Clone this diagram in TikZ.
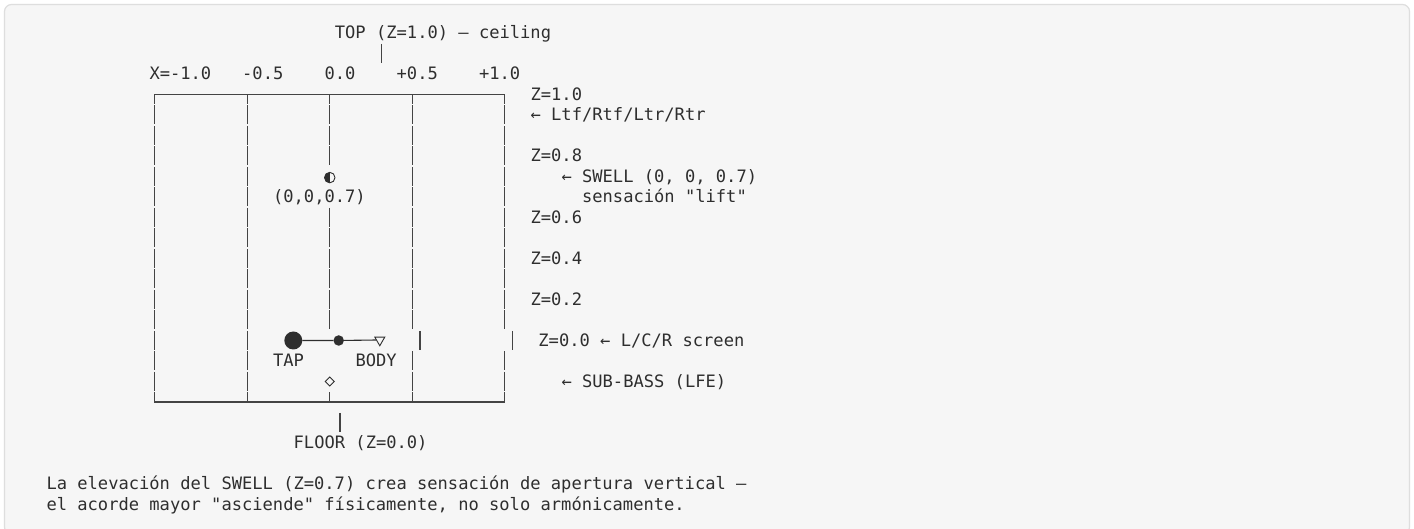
\documentclass[tikz,border=0pt]{standalone}
\usepackage{fontspec}
\newfontfamily\asciimono{DejaVu Sans Mono}
\usetikzlibrary{shapes.geometric}
\definecolor{ink}{HTML}{2E2E2E}
\definecolor{frame}{HTML}{444444}
\definecolor{panel}{HTML}{F6F6F6}
\definecolor{panelrule}{HTML}{DEDEDE}
\begin{document}
\begin{tikzpicture}[x=1pt,y=-1pt,
  % ly: centre of text row, cx: left edge of a character cell, cc: cell centre
  declare function={ly(\lnum)=32.9+(\lnum-1)*20.5;
                    cx(\cnum)=149.5+\cnum*10.3;
                    cc(\cnum)=149.5+(\cnum+0.5)*10.3;},
  txt/.style={anchor=base west, inner sep=0pt, outer sep=0pt, text=ink,
              font=\asciimono\fontsize{17.1}{20.5}\selectfont},
  rule/.style={draw=frame, line width=1.2pt},
  wire/.style={draw=ink, line width=1.1pt},
  dot/.style={circle, fill=ink, inner sep=0pt, outer sep=0pt},
  hollow/.style={draw=ink, line width=0.9pt, inner sep=0pt, outer sep=0pt},
]
\useasboundingbox (0,0) rectangle (1414,529);
\fill[white] (0,0) rectangle (1414,529);
\draw[fill=panel, draw=panelrule, line width=1.2pt, rounded corners=7pt]
  (4.5,4.5) rectangle (1409.5,534);

% ---- header ----
\node[txt] (toplbl) at ({cx(18)},{ly(1)+5.9}) {TOP (Z=1.0) — ceiling};
\draw[rule] ({cc(22)},{ly(2)-9.5}) -- ({cc(22)},{ly(2)+9.5});

\node[txt] (xm10) at ({cx(0)},{ly(3)+5.9}) {X=-1.0};
\node[txt] (xm05) at ({cx(9)},{ly(3)+5.9}) {-0.5};
\node[txt] (x00)  at ({cx(17)},{ly(3)+5.9}) {0.0};
\node[txt] (xp05) at ({cx(24)},{ly(3)+5.9}) {+0.5};
\node[txt] (xp10) at ({cx(32)},{ly(3)+5.9}) {+1.0};

% ---- frame: top and bottom borders ----
\draw[rule] ({cc(0)},{ly(4)+9.5}) -- ({cc(0)},{ly(4)}) -- ({cc(34)},{ly(4)}) -- ({cc(34)},{ly(4)+9.5});
\foreach \col in {9,17,25}
  \draw[rule] ({cc(\col)},{ly(4)}) -- ({cc(\col)},{ly(4)+9.5});
\draw[rule] ({cc(0)},{ly(19)-9.5}) -- ({cc(0)},{ly(19)}) -- ({cc(34)},{ly(19)}) -- ({cc(34)},{ly(19)-9.5});
\foreach \col in {9,17,25}
  \draw[rule] ({cc(\col)},{ly(19)}) -- ({cc(\col)},{ly(19)-9.5});

% ---- frame: vertical rules, one segment per text row ----
\foreach \row in {5,...,18} {
  \draw[rule] ({cc(0)},{ly(\row)-9.5}) -- ({cc(0)},{ly(\row)+9.5});
  \draw[rule] ({cc(9)},{ly(\row)-9.5}) -- ({cc(9)},{ly(\row)+9.5});
}
\foreach \row in {5,6,7,10,11,12,13,14,15}
  \draw[rule] ({cc(17)},{ly(\row)-9.5}) -- ({cc(17)},{ly(\row)+9.5});
\foreach \row in {5,...,15,17,18} {
  \draw[rule] ({cc(25)},{ly(\row)-9.5}) -- ({cc(25)},{ly(\row)+9.5});
  \draw[rule] ({cc(34)},{ly(\row)-9.5}) -- ({cc(34)},{ly(\row)+9.5});
}
% row 16 is pushed right by the wide markers
\draw[rule] ({cc(25)+7.85},{ly(16)-9.5}) -- ({cc(25)+7.85},{ly(16)+9.5});
\draw[rule] ({cc(34)+7.85},{ly(16)-9.5}) -- ({cc(34)+7.85},{ly(16)+9.5});

% ---- height labels ----
\node[txt] (z10)  at ({cx(37)},{ly(4)+5.9}) {Z=1.0};
\node[txt] (top4) at ({cx(37)},{ly(5)+5.9}) {← Ltf/Rtf/Ltr/Rtr};
\node[txt] (z08)  at ({cx(37)},{ly(7)+5.9}) {Z=0.8};
\node[txt] (swlbl) at ({cx(40)},{ly(8)+5.9}) {← SWELL (0, 0, 0.7)};
\node[txt] (lift) at ({cx(42)},{ly(9)+5.9}) {sensación "lift"};
\node[txt] (z06)  at ({cx(37)},{ly(10)+5.9}) {Z=0.6};
\node[txt] (z04)  at ({cx(37)},{ly(12)+5.9}) {Z=0.4};
\node[txt] (z02)  at ({cx(37)},{ly(14)+5.9}) {Z=0.2};
\node[txt] (z00)  at ({cx(37)+7.85},{ly(16)+5.9}) {Z=0.0 ← L/C/R screen};
\node[txt] (sublbl) at ({cx(40)},{ly(18)+5.9}) {← SUB-BASS (LFE)};

% ---- SWELL source: circle with its left half filled ----
\node[hollow, circle, minimum size=10.5pt] (swell) at ({cc(17)},177.6) {};
\fill[ink] (swell.center) ++(0,-5.25) arc[start angle=90, end angle=270, radius=5.25pt] -- cycle;
\node[txt] (swpos) at ({cx(12)},{ly(9)+5.9}) {(0,0,0.7)};

% ---- TAP / BODY sources ----
\node[dot, minimum size=18pt] (tap) at (293.3,340.5) {};
\node[dot, minimum size=10.5pt] (body) at (338.7,340.5) {};
\node[hollow, regular polygon, regular polygon sides=3, shape border rotate=180,
      minimum size=11.5pt] (bodytip) at (379.8,340) {};
\draw[wire] (tap) -- (body) -- (bodytip.west);
\node[txt] (taplbl)  at ({cx(12)},{ly(17)+5.9}) {TAP};
\node[txt] (bodylbl) at ({cx(20)},{ly(17)+5.9}) {BODY};

% ---- sub-bass ----
\node[hollow, diamond, minimum size=9pt] (sub) at ({cc(17)},381.5) {};

% ---- floor ----
\draw[rule] ({cc(18)},{ly(20)-9.5}) -- ({cc(18)},{ly(20)+9.5});
\node[txt] (floor) at ({cx(14)},{ly(21)+5.9}) {FLOOR (Z=0.0)};

% ---- note ----
\node[txt] (note1) at ({cx(-10)},{ly(23)+5.9}) {La elevación del SWELL (Z=0.7) crea sensación de apertura vertical —};
\node[txt] (note2) at ({cx(-10)},{ly(24)+5.9}) {el acorde mayor "asciende" físicamente, no solo armónicamente.};
\end{tikzpicture}
\end{document}
